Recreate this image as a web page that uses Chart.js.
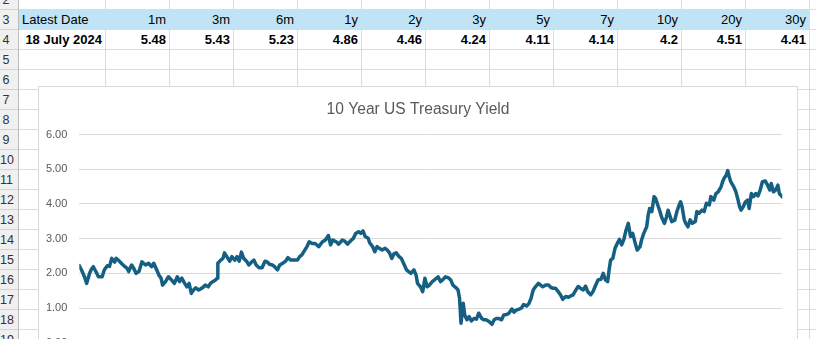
<!DOCTYPE html>
<html>
<head>
<meta charset="utf-8">
<title>10 Year US Treasury Yield</title>
<script src="https://cdn.jsdelivr.net/npm/chart.js@4.4.1/dist/chart.umd.min.js"></script>
<style>
  html, body { margin: 0; padding: 0; }
  body {
    width: 816px; height: 339px; overflow: hidden; position: relative; background: #fff;
    font-family: "Liberation Sans", Arial, sans-serif;
  }
  .hline { position: absolute; left: 19px; width: 797px; height: 1px; background: #dcdcdc; }
  .vline { position: absolute; top: 0; width: 1px; height: 339px; background: #dcdcdc; }
  #rowHead {
    position: absolute; left: 0; top: 0; width: 18px; height: 339px;
    background: #f0f0f0; border-right: 1px solid #bdbdbd;
  }
  .rownum {
    position: absolute; left: 0; width: 12px; text-align: center;
    font-size: 12.5px; line-height: 20px; color: #333;
  }
  .rowsep { position: absolute; left: 0; width: 18px; height: 1px; background: #d2d2d2; }
  #band { position: absolute; left: 19px; top: 9px; width: 790px; height: 20px; background: #c0e4f5; }
  .cell {
    position: absolute; height: 20px; line-height: 20px; font-size: 13px;
    color: #000; white-space: nowrap;
  }
  .bold { font-weight: bold; }
  #chartBox {
    position: absolute; left: 38px; top: 86px; width: 758px; height: 300px;
    background: #fff; border: 1px solid #d9d9d9;
  }
  #yieldChart { position: absolute; left: 38px; top: 86px; }
</style>
</head>
<body>
<div id="rowHead"></div>
<div id="band"></div>
<div id="chartBox"></div>
<canvas id="yieldChart" width="760" height="300"></canvas>

<script>
// latest curve snapshot shown above the chart
const latestDate = "18 July 2024";
const tenors = ["1m", "3m", "6m", "1y", "2y", "3y", "5y", "7y", "10y", "20y", "30y"];
const latestYields = ["5.48", "5.43", "5.23", "4.86", "4.46", "4.24", "4.11", "4.14", "4.2", "4.51", "4.41"];

// 10 year yield history, dates as fractional years (one line per calendar year)
const yearFrac = [
  2015.00, 2015.04, 2015.07, 2015.10, 2015.14, 2015.16, 2015.19, 2015.23, 2015.26, 2015.31, 2015.34, 2015.38, 2015.41, 2015.44, 2015.48, 2015.50, 2015.53, 2015.57, 2015.62, 2015.65, 2015.67, 2015.71, 2015.74, 2015.77, 2015.81, 2015.85, 2015.90, 2015.94, 2015.98,
  2016.01, 2016.05, 2016.08, 2016.11, 2016.13, 2016.17, 2016.21, 2016.25, 2016.29, 2016.33, 2016.36, 2016.39, 2016.43, 2016.46, 2016.49, 2016.52, 2016.55, 2016.58, 2016.62, 2016.67, 2016.71, 2016.75, 2016.78, 2016.81, 2016.85, 2016.87, 2016.88, 2016.92, 2016.95, 2016.97,
  2017.01, 2017.04, 2017.07, 2017.11, 2017.14, 2017.17, 2017.20, 2017.23, 2017.27, 2017.30, 2017.34, 2017.37, 2017.40, 2017.44, 2017.48, 2017.52, 2017.55, 2017.58, 2017.62, 2017.65, 2017.69, 2017.72, 2017.76, 2017.80, 2017.83, 2017.87, 2017.91, 2017.96, 2017.99,
  2018.02, 2018.06, 2018.09, 2018.12, 2018.16, 2018.20, 2018.25, 2018.30, 2018.34, 2018.38, 2018.41, 2018.44, 2018.49, 2018.52, 2018.57, 2018.60, 2018.64, 2018.68, 2018.72, 2018.75, 2018.79, 2018.82, 2018.85, 2018.88, 2018.92, 2018.94, 2018.98,
  2019.01, 2019.04, 2019.07, 2019.11, 2019.15, 2019.18, 2019.21, 2019.24, 2019.27, 2019.30, 2019.34, 2019.37, 2019.40, 2019.44, 2019.47, 2019.50, 2019.54, 2019.57, 2019.59, 2019.63, 2019.66, 2019.69, 2019.72, 2019.75, 2019.79, 2019.82, 2019.87, 2019.90, 2019.93, 2019.97,
  2020.01, 2020.04, 2020.07, 2020.11, 2020.14, 2020.16, 2020.18, 2020.21, 2020.23, 2020.26, 2020.29, 2020.32, 2020.36, 2020.39, 2020.42, 2020.46, 2020.49, 2020.52, 2020.56, 2020.60, 2020.63, 2020.66, 2020.69, 2020.73, 2020.76, 2020.80, 2020.83, 2020.87, 2020.90, 2020.93, 2020.97,
  2021.00, 2021.03, 2021.07, 2021.10, 2021.13, 2021.16, 2021.19, 2021.23, 2021.26, 2021.29, 2021.33, 2021.37, 2021.40, 2021.43, 2021.46, 2021.50, 2021.53, 2021.56, 2021.60, 2021.64, 2021.67, 2021.70, 2021.74, 2021.77, 2021.80, 2021.84, 2021.87, 2021.90, 2021.94, 2021.97,
  2022.01, 2022.04, 2022.08, 2022.11, 2022.14, 2022.17, 2022.19, 2022.21, 2022.24, 2022.27, 2022.30, 2022.33, 2022.36, 2022.39, 2022.42, 2022.45, 2022.48, 2022.51, 2022.54, 2022.57, 2022.61, 2022.63, 2022.66, 2022.70, 2022.72, 2022.74, 2022.77, 2022.80, 2022.82, 2022.85, 2022.88, 2022.90, 2022.94, 2022.97, 2022.99,
  2023.04, 2023.08, 2023.11, 2023.14, 2023.16, 2023.18, 2023.21, 2023.23, 2023.26, 2023.29, 2023.32, 2023.36, 2023.38, 2023.41, 2023.45, 2023.48, 2023.51, 2023.55, 2023.57, 2023.61, 2023.64, 2023.67, 2023.71, 2023.73, 2023.75, 2023.78, 2023.80, 2023.82, 2023.84, 2023.88, 2023.91, 2023.94, 2023.96, 2023.98,
  2024.01, 2024.04, 2024.07, 2024.09, 2024.12, 2024.15, 2024.18, 2024.21, 2024.24, 2024.27, 2024.31, 2024.34, 2024.37, 2024.39, 2024.42, 2024.45, 2024.48, 2024.50, 2024.52, 2024.54
];
const yields = [
  2.22, 2.05, 1.90, 1.71, 2.00, 2.10, 2.19, 2.03, 1.90, 1.90, 2.10, 2.22, 2.20, 2.43, 2.32, 2.43, 2.38, 2.29, 2.19, 2.14, 2.05, 2.24, 2.14, 2.00, 2.05, 2.33, 2.24, 2.29, 2.19,
  2.29, 2.10, 1.95, 1.86, 1.66, 1.76, 1.90, 1.81, 1.71, 1.90, 1.76, 1.86, 1.71, 1.61, 1.71, 1.42, 1.52, 1.58, 1.52, 1.58, 1.66, 1.61, 1.71, 1.76, 1.81, 1.86, 2.29, 2.38, 2.43, 2.59,
  2.45, 2.35, 2.48, 2.38, 2.48, 2.35, 2.61, 2.43, 2.35, 2.24, 2.33, 2.38, 2.24, 2.16, 2.16, 2.35, 2.33, 2.26, 2.24, 2.19, 2.10, 2.24, 2.29, 2.35, 2.45, 2.38, 2.38, 2.38, 2.48,
  2.53, 2.67, 2.77, 2.91, 2.86, 2.86, 2.77, 2.91, 2.96, 3.09, 2.82, 2.96, 2.90, 2.84, 2.96, 2.93, 2.84, 2.93, 3.01, 3.15, 3.20, 3.15, 3.22, 3.06, 3.01, 2.88, 2.77,
  2.62, 2.77, 2.72, 2.67, 2.72, 2.67, 2.59, 2.43, 2.56, 2.59, 2.48, 2.43, 2.29, 2.10, 2.05, 2.00, 2.10, 1.95, 1.71, 1.61, 1.47, 1.86, 1.61, 1.66, 1.76, 1.81, 1.90, 1.76, 1.81, 1.90,
  1.87, 1.81, 1.66, 1.59, 1.52, 1.28, 0.56, 1.14, 0.80, 0.66, 0.75, 0.63, 0.70, 0.68, 0.85, 0.70, 0.66, 0.66, 0.61, 0.53, 0.66, 0.70, 0.70, 0.66, 0.80, 0.81, 0.85, 0.97, 0.88, 0.94, 0.97,
  1.00, 1.10, 1.06, 1.12, 1.28, 1.52, 1.61, 1.71, 1.66, 1.61, 1.66, 1.66, 1.59, 1.57, 1.57, 1.47, 1.38, 1.25, 1.33, 1.31, 1.35, 1.38, 1.52, 1.62, 1.57, 1.52, 1.63, 1.47, 1.38, 1.47,
  1.67, 1.81, 1.83, 2.00, 1.81, 1.76, 2.10, 2.38, 2.43, 2.72, 2.86, 2.98, 2.82, 2.98, 3.25, 3.44, 3.06, 3.15, 2.90, 2.67, 2.77, 2.96, 3.15, 3.34, 3.68, 3.87, 3.78, 4.21, 4.16, 3.97, 3.78, 3.63, 3.44, 3.63, 3.82,
  3.49, 3.53, 3.78, 3.97, 4.06, 3.92, 3.54, 3.44, 3.34, 3.54, 3.44, 3.49, 3.78, 3.73, 3.82, 3.78, 4.02, 3.97, 4.21, 4.11, 4.30, 4.35, 4.50, 4.64, 4.74, 4.83, 4.96, 4.78, 4.64, 4.50, 4.35, 4.11, 3.92, 3.82,
  3.92, 4.06, 4.11, 3.87, 4.30, 4.21, 4.30, 4.23, 4.40, 4.64, 4.66, 4.54, 4.40, 4.59, 4.35, 4.40, 4.54, 4.30, 4.25, 4.20
];
const yTicks = [0, 1, 2, 3, 4, 5, 6];

if (yearFrac.length !== yields.length) {
  console.warn("date/yield length mismatch", yearFrac.length, yields.length);
}

const FONT = '"Liberation Sans", Arial, sans-serif';
const ROW_TOP = 9;       // top of row 3
const ROW_H = 20;
const COL_A_RIGHT = 105;
const COL_W = 64;

// sheet gridlines, row headers and the two filled rows
(function buildSheet() {
  const body = document.body;
  const rowHead = document.getElementById("rowHead");
  const first = body.firstChild;

  for (let y = ROW_TOP; y < 339; y += ROW_H) {
    const h = document.createElement("div");
    h.className = "hline";
    h.style.top = y + "px";
    body.insertBefore(h, first);
  }
  for (let x = COL_A_RIGHT; x < 816; x += COL_W) {
    const v = document.createElement("div");
    v.className = "vline";
    v.style.left = x + "px";
    body.insertBefore(v, first);
  }

  for (let n = 2; n <= 19; n++) {
    const top = ROW_TOP + (n - 3) * ROW_H;
    const num = document.createElement("div");
    num.className = "rownum";
    num.style.top = (top + 1) + "px";
    num.textContent = n;
    rowHead.appendChild(num);
    const sep = document.createElement("div");
    sep.className = "rowsep";
    sep.style.top = (top + ROW_H) + "px";
    rowHead.appendChild(sep);
  }

  function cell(text, left, width, top, align, bold) {
    const c = document.createElement("div");
    c.className = "cell" + (bold ? " bold" : "");
    c.style.left = left + "px";
    c.style.width = width + "px";
    c.style.top = top + "px";
    c.style.textAlign = align;
    c.textContent = text;
    body.appendChild(c);
  }

  const r3 = ROW_TOP + 1, r4 = ROW_TOP + ROW_H + 1;
  cell("Latest Date", 22, 80, r3, "left", false);
  cell(latestDate, 19, 83, r4, "right", true);
  tenors.forEach((t, i) => {
    const left = COL_A_RIGHT + i * COL_W;
    cell(t, left, COL_W - 3, r3, "right", false);
    cell(latestYields[i], left, COL_W - 3, r4, "right", true);
  });
})();

const ctx = document.getElementById("yieldChart").getContext("2d");
const yieldChart = new Chart(ctx, {
  type: "line",
  data: {
    datasets: [
      {
        label: "10y",
        data: yearFrac.map((t, i) => ({ x: t, y: yields[i] })),
        borderColor: "#156082",
        borderWidth: 3.5,
        pointRadius: 0,
        tension: 0,
        borderJoinStyle: "round",
        borderCapStyle: "round",
      },
    ],
  },
  options: {
    responsive: false,
    animation: false,
    devicePixelRatio: 1,
    layout: { padding: { left: 0, right: 0, top: 0, bottom: 43.3 } },
    plugins: {
      legend: { display: false },
      tooltip: { enabled: false },
      title: {
        display: true,
        text: "10 Year US Treasury Yield",
        color: "#595959",
        font: { family: FONT, size: 15.6, weight: "normal" },
        padding: { top: 14, bottom: 15.8 },
      },
    },
    scales: {
      x: { type: "linear", display: false, min: 2015.0, max: 2024.54 },
      y: {
        min: yTicks[0],
        max: yTicks[yTicks.length - 1],
        afterFit: (scale) => { scale.width = 41.3; },
        ticks: {
          stepSize: 1,
          padding: 12,
          color: "#595959",
          font: { family: FONT, size: 11 },
          callback: (v) => v.toFixed(2),
        },
        grid: { color: "#d9d9d9", drawTicks: false },
        border: { display: false },
      },
      // empty right-hand axis: reserves the right margin so the title stays centred
      yGap: {
        position: "right",
        afterFit: (scale) => { scale.width = 15.7; },
        ticks: { display: false },
        grid: { display: false },
        border: { display: false },
      },
    },
  },
});
</script>
</body>
</html>
